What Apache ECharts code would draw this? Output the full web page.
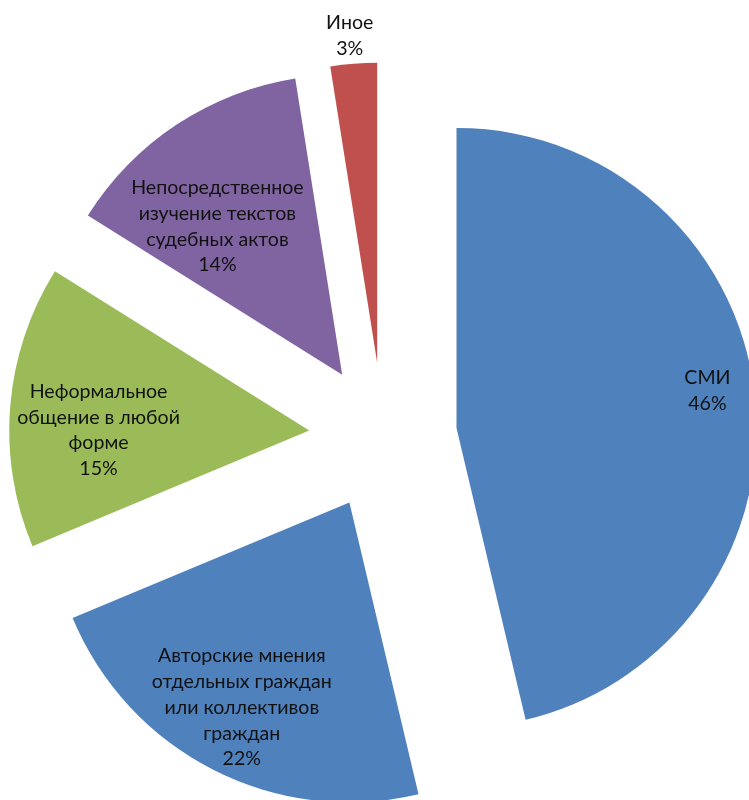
<!DOCTYPE html>
<html>
<head>
<meta charset="utf-8">
<script src="https://cdn.jsdelivr.net/npm/echarts@6/dist/echarts.min.js"></script>
<style>
  html, body { margin: 0; padding: 0; background: #fff; }
  #chart { width: 749px; height: 800px; }
</style>
</head>
<body>
<div id="chart"></div>
<script>
// Источники информации о судебной практике, доли ответов (%)
const categories = [
  'СМИ',
  'Авторские мнения\nотдельных граждан\nили коллективов\nграждан',
  'Неформальное\nобщение в любой\nформе',
  'Непосредственное\nизучение текстов\nсудебных актов',
  'Иное'
];
const values = [46.3, 22.4, 15.2, 13.6, 2.5];
const colors = ['#4F81BD', '#4F81BD', '#9BBB59', '#8064A2', '#C0504D'];

// Геометрия круга
const CENTER = [383, 436.5];
const RADIUS = 300;
const EXPLODE = 74;
// Положение подписи: [вдоль биссектрисы (доля радиуса от вершины сектора),
//                     поперёк биссектрисы (px)]
const labelPlace = [[0.845, -7.6], [0.772, 2.8], [0.70, -17], [0.642, -22.2], [1.095, -1.7]];

// Средние углы секторов (по часовой стрелке от 12 часов)
const total = values.reduce((a, b) => a + b, 0);
const midAngles = [];
let acc = 0;
values.forEach(v => {
  midAngles.push((acc + v / 2) / total * 2 * Math.PI);
  acc += v;
});

const chart = echarts.init(document.getElementById('chart'), null, { renderer: 'canvas' });
chart.setOption({
  animation: false,
  backgroundColor: '#ffffff',
  series: [{
    type: 'pie',
    center: CENTER,
    radius: RADIUS,
    startAngle: 90,
    clockwise: true,
    selectedMode: 'multiple',
    selectedOffset: EXPLODE,
    avoidLabelOverlap: false,
    emphasis: { disabled: true },
    itemStyle: { borderWidth: 0 },
    label: {
      show: true,
      position: 'inside',
      formatter: p => p.name + '\n' + Math.round(p.percent) + '%',
      fontFamily: 'Lato',
      fontSize: 19.6,
      lineHeight: 25.7,
      color: '#111',
      align: 'center'
    },
    labelLine: { show: false },
    labelLayout: params => {
      const i = params.dataIndex;
      const a = midAngles[i];
      const [reach, side] = labelPlace[i];
      // сдвиг от стандартной внутренней позиции (r/2 + 3 от вершины)
      const along = reach * RADIUS - (RADIUS / 2 + 3);
      const ux = Math.sin(a), uy = -Math.cos(a);
      const vx = Math.cos(a), vy = Math.sin(a);
      return {
        dx: along * ux + side * vx,
        dy: along * uy + side * vy,
        align: 'center',
        verticalAlign: 'middle'
      };
    },
    data: categories.map((name, i) => ({
      name: name,
      value: values[i],
      selected: true,
      itemStyle: { color: colors[i] }
    }))
  }]
});
</script>
</body>
</html>
